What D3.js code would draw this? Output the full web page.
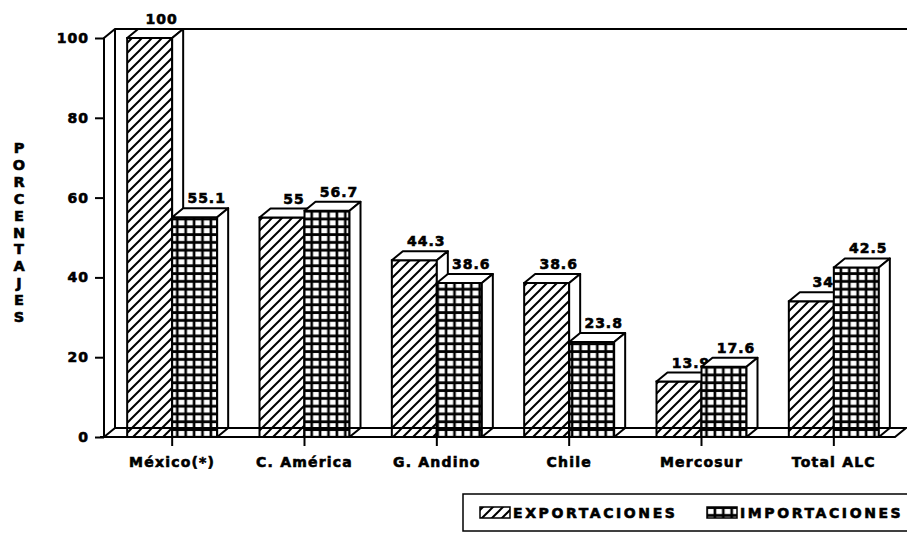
<!DOCTYPE html>
<html>
<head>
<meta charset="utf-8">
<script src="https://cdn.jsdelivr.net/npm/d3@7"></script>
<style>
  body { margin: 0; background: #fff; }
  text { font-family: "DejaVu Sans", sans-serif; font-weight: bold; fill: #000; stroke: #000; stroke-width: 0.6px; }
</style>
</head>
<body>
<div id="chart"></div>
<script>
const categories = ["México(*)", "C. América", "G. Andino", "Chile", "Mercosur", "Total ALC"];
const exportaciones = [100, 55, 44.3, 38.6, 13.9, 34];
const importaciones = [55.1, 56.7, 38.6, 23.8, 17.6, 42.5];
const yTicks = [0, 20, 40, 60, 80, 100];
const seriesNames = ["EXPORTACIONES", "IMPORTACIONES"];
const yTitle = "PORCENTAJES";

const W = 907, H = 535;
// 3d offset of the boxes
const dx = 11, dy = -9;
const barW = 45;

const svg = d3.select("#chart").append("svg")
  .attr("width", W).attr("height", H);

const defs = svg.append("defs");
const hatch = defs.append("pattern")
  .attr("id", "hatch").attr("patternUnits", "userSpaceOnUse")
  .attr("width", 10).attr("height", 10);
hatch.append("rect").attr("width", 10).attr("height", 10).attr("fill", "#fff");
hatch.append("path")
  .attr("d", "M-2,2 L2,-2 M0,10 L10,0 M8,12 L12,8")
  .attr("stroke", "#000").attr("stroke-width", 2);

const grid = defs.append("pattern")
  .attr("id", "grid").attr("patternUnits", "userSpaceOnUse")
  .attr("width", 8.4).attr("height", 7.8);
grid.append("rect").attr("width", 8.4).attr("height", 7.8).attr("fill", "#000");
grid.append("rect").attr("x", 2.2).attr("y", 2).attr("width", 5.8).attr("height", 5).attr("fill", "#fff");

const x = d3.scaleBand().domain(categories).range([106, 900]);
const y = d3.scaleLinear().domain([0, 100]).range([437, 38]);
const x0 = 104;

// back wall and floor
const frame = svg.append("g").attr("fill", "none").attr("stroke", "#000").attr("stroke-width", 2);
frame.append("path")
  .attr("d", `M${x0},${y(0)} L${x0},${y(100)} L${x0 + dx},${y(100) + dy} L${W},${y(100) + dy}`);
frame.append("path")
  .attr("d", `M${x0 + dx},${y(100) + dy} L${x0 + dx},${y(0) + dy}`);

// y axis
const yAxis = svg.append("g")
  .attr("transform", `translate(${x0},0)`)
  .call(d3.axisLeft(y).tickValues(yTicks).tickSize(9).tickPadding(6));
yAxis.select(".domain").remove();
yAxis.selectAll("line").attr("stroke", "#000").attr("stroke-width", 2);
yAxis.selectAll("text")
  .style("font-family", "DejaVu Sans").style("font-weight", "bold")
  .style("font-size", "14px").style("letter-spacing", "1px").attr("fill", "#000");

// y title, one letter per line
svg.append("g").selectAll("text")
  .data(yTitle.split(""))
  .join("text")
  .attr("x", 19).attr("y", (d, i) => 153 + i * 16.9)
  .attr("text-anchor", "middle")
  .attr("font-size", "14.5px")
  .text(d => d);

function box(g, bx, v, fill) {
  const yt = y(v), yb = y(0);
  g.append("rect")
    .attr("x", bx).attr("y", yt).attr("width", barW).attr("height", yb - yt)
    .attr("fill", `url(#${fill})`).attr("stroke", "#000").attr("stroke-width", 2);
  g.append("path")
    .attr("d", `M${bx},${yt} L${bx + dx},${yt + dy} L${bx + barW + dx},${yt + dy} L${bx + barW},${yt} Z`)
    .attr("fill", "#fff").attr("stroke", "#000").attr("stroke-width", 2).attr("stroke-linejoin", "round");
  g.append("path")
    .attr("d", `M${bx + barW},${yt} L${bx + barW + dx},${yt + dy} L${bx + barW + dx},${yb + dy} L${bx + barW},${yb} Z`)
    .attr("fill", "#fff").attr("stroke", "#000").attr("stroke-width", 2).attr("stroke-linejoin", "round");
}

function valueLabel(g, bx, v) {
  g.append("text")
    .attr("x", bx + barW / 2 + dx + 1).attr("y", y(v) + dy - 5)
    .attr("text-anchor", "middle")
    .attr("font-size", "14px").style("letter-spacing", "1px")
    .text(String(v));
}

const bars = svg.append("g");
categories.forEach((c, i) => {
  const cx = x(c) + x.bandwidth() / 2;
  const g = bars.append("g");
  box(g, cx - barW, exportaciones[i], "hatch");
  valueLabel(g, cx - barW, exportaciones[i]);
  box(g, cx, importaciones[i], "grid");
  valueLabel(g, cx, importaciones[i]);
});

// floor slab edges
const fl = svg.append("g").attr("fill", "none").attr("stroke", "#000").attr("stroke-width", 2);
fl.append("path")
  .attr("d", `M${x0 - 4},${y(0)} L${895},${y(0)} L${895 + dx},${y(0) + dy} L${x0 + dx},${y(0) + dy} L${x0},${y(0)}`);

// x axis
const xAxis = svg.append("g")
  .attr("transform", `translate(0,${y(0)})`)
  .call(d3.axisBottom(x).tickSize(9).tickPadding(11));
xAxis.select(".domain").remove();
xAxis.selectAll("line").attr("stroke", "#000").attr("stroke-width", 2);
xAxis.selectAll("text")
  .style("font-family", "DejaVu Sans").style("font-weight", "bold")
  .style("font-size", "14px").style("letter-spacing", "1.2px").attr("fill", "#000");

// legend
const leg = svg.append("g");
leg.append("rect")
  .attr("x", 463).attr("y", 494).attr("width", 460).attr("height", 37)
  .attr("fill", "none").attr("stroke", "#000").attr("stroke-width", 1.5);
const legX = [480, 707];
seriesNames.forEach((name, i) => {
  leg.append("rect")
    .attr("x", legX[i]).attr("y", 507).attr("width", 30).attr("height", 11)
    .attr("fill", i === 0 ? "url(#hatch)" : "url(#grid)")
    .attr("stroke", "#000").attr("stroke-width", 1.5);
  leg.append("text")
    .attr("x", legX[i] + 33).attr("y", 518)
    .attr("font-size", "14px").style("letter-spacing", "2.6px")
    .text(name);
});
</script>
</body>
</html>
